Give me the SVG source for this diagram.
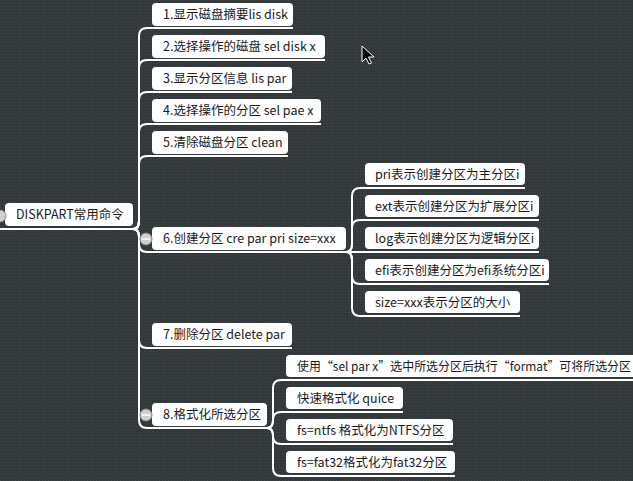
<svg xmlns="http://www.w3.org/2000/svg" width="633" height="481" viewBox="0 0 633 481">
<defs>
<pattern id="bg" width="3" height="3" patternUnits="userSpaceOnUse">
<rect width="3" height="3" fill="#33383b"/>
<rect width="1" height="1" fill="#42474a"/>
</pattern>
<style>
.box{fill:#ffffff;}
.t{font-family:"Noto Sans CJK SC","Microsoft YaHei",sans-serif;font-size:12.5px;fill:#1a1a1a;}
.c{fill:none;stroke:#ffffff;stroke-width:2;}
.col{fill:#d0d0d0;stroke:#8a8a8a;stroke-width:1;}
.minus{stroke:#ffffff;stroke-width:1.5;}
</style>
</defs>
<rect width="633" height="481" fill="url(#bg)"/>
<g id="connectors">
<path class="c" d="M0 229 H133"/>
<path class="c" d="M133 229 Q139 229 139 221 V36 Q139 28 147 28 H293"/>
<path class="c" d="M133 229 Q139 229 139 221 V68 Q139 60 147 60 H325"/>
<path class="c" d="M133 229 Q139 229 139 221 V100 Q139 92 147 92 H292"/>
<path class="c" d="M133 229 Q139 229 139 221 V132 Q139 124 147 124 H321"/>
<path class="c" d="M133 229 Q139 229 139 221 V164 Q139 156 147 156 H288"/>
<path class="c" d="M133 229 Q139 229 139 237 V244 Q139 252 147 252 H346"/>
<path class="c" d="M133 229 Q139 229 139 237 V340 Q139 348 147 348 H292"/>
<path class="c" d="M133 229 Q139 229 139 237 V420 Q139 428 147 428 H267"/>
<path class="c" d="M346 252 Q352 252 352 244 V196 Q352 188 360 188 H525"/>
<path class="c" d="M346 252 Q352 252 352 244 V228 Q352 220 360 220 H539"/>
<path class="c" d="M346 252 H539"/>
<path class="c" d="M346 252 Q352 252 352 260 V276 Q352 284 360 284 H549"/>
<path class="c" d="M346 252 Q352 252 352 260 V308 Q352 316 360 316 H520"/>
<path class="c" d="M267 428 Q273 428 273 420 V388 Q273 380 281 380 H633"/>
<path class="c" d="M267 428 Q273 428 273 420 V420 Q273 412 281 412 H403"/>
<path class="c" d="M267 428 Q273 428 273 436 V436 Q273 444 281 444 H453"/>
<path class="c" d="M267 428 Q273 428 273 436 V468 Q273 476 281 476 H455"/>
</g>
<g id="root">
<rect class="box" x="5" y="203" width="128" height="23" rx="4"/>
<text class="t" x="16" y="219">DISKPART常用命令</text>
<circle class="col" cx="0" cy="216" r="6"/>
</g>
<g id="n1"><rect class="box" x="152" y="3" width="141" height="23" rx="4"/><text class="t" x="163" y="19">1.显示磁盘摘要lis disk</text></g>
<g id="n2"><rect class="box" x="152" y="35" width="173" height="23" rx="4"/><text class="t" x="163" y="51">2.选择操作的磁盘 sel disk x</text></g>
<g id="n3"><rect class="box" x="152" y="67" width="140" height="23" rx="4"/><text class="t" x="163" y="83">3.显示分区信息 lis par</text></g>
<g id="n4"><rect class="box" x="152" y="99" width="169" height="23" rx="4"/><text class="t" x="163" y="115">4.选择操作的分区 sel pae x</text></g>
<g id="n5"><rect class="box" x="152" y="131" width="136" height="23" rx="4"/><text class="t" x="163" y="147">5.清除磁盘分区 clean</text></g>
<g id="n6"><rect class="box" x="152" y="227" width="194" height="23" rx="4"/><text class="t" x="163" y="243">6.创建分区 cre par pri size=xxx</text>
<circle class="col" cx="146" cy="239" r="6"/><line class="minus" x1="142" y1="239" x2="150" y2="239"/></g>
<g id="n7"><rect class="box" x="152" y="323" width="140" height="23" rx="4"/><text class="t" x="163" y="339">7.删除分区 delete par</text></g>
<g id="n8"><rect class="box" x="152" y="403" width="115" height="23" rx="4"/><text class="t" x="163" y="419">8.格式化所选分区</text>
<circle class="col" cx="146" cy="415" r="6"/><line class="minus" x1="142" y1="415" x2="150" y2="415"/></g>
<g id="c1"><rect class="box" x="365" y="163" width="160" height="22" rx="4"/><text class="t" x="375" y="179">pri表示创建分区为主分区i</text></g>
<g id="c2"><rect class="box" x="365" y="195" width="174" height="22" rx="4"/><text class="t" x="375" y="211">ext表示创建分区为扩展分区i</text></g>
<g id="c3"><rect class="box" x="365" y="227" width="174" height="22" rx="4"/><text class="t" x="375" y="243">log表示创建分区为逻辑分区i</text></g>
<g id="c4"><rect class="box" x="365" y="259" width="184" height="22" rx="4"/><text class="t" x="375" y="275">efi表示创建分区为efi系统分区i</text></g>
<g id="c5"><rect class="box" x="365" y="291" width="155" height="22" rx="4"/><text class="t" x="375" y="307">size=xxx表示分区的大小</text></g>
<g id="d1"><rect class="box" x="286" y="355" width="360" height="22" rx="4"/><text class="t" x="297" y="371" textLength="334" lengthAdjust="spacingAndGlyphs">使用“sel par x”选中所选分区后执行“format”可将所选分区</text></g>
<g id="d2"><rect class="box" x="286" y="387" width="117" height="22" rx="4"/><text class="t" x="297" y="403">快速格式化 quice</text></g>
<g id="d3"><rect class="box" x="286" y="419" width="167" height="22" rx="4"/><text class="t" x="297" y="435">fs=ntfs 格式化为NTFS分区</text></g>
<g id="d4"><rect class="box" x="286" y="451" width="169" height="22" rx="4"/><text class="t" x="297" y="467">fs=fat32格式化为fat32分区</text></g>
<path d="M362 46 V62 L366 58 L369 64 L371.5 63 L368.5 57 L374 57 Z" fill="#000" stroke="#fff" stroke-width="1"/>
</svg>
